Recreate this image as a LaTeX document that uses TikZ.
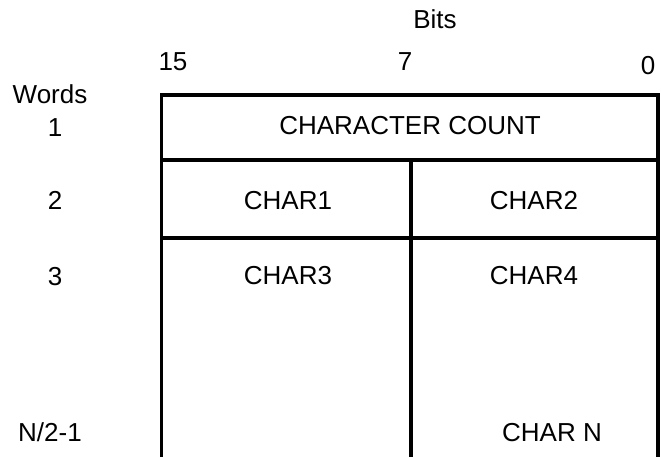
\documentclass[tikz,border=0pt]{standalone}
\usepackage{fontspec}
\setmainfont{Liberation Sans}
\usepackage{tikz}
\usetikzlibrary{positioning}

\begin{document}
\begin{tikzpicture}[
    x=1pt, y=-1pt,
    every node/.style={font=\fontsize{26}{30}\selectfont, inner sep=0pt, text height=18.6pt, text depth=0pt},
    frameline/.style={line width=3.2pt, black},
    wordlabel/.style={},
    charlabel/.style={}
]

% 参数：格子边界（像素）
\def\xL{161.5}
\def\xM{411}
\def\xR{658}
\def\yT{95}
\def\yA{160}
\def\yB{238}
\def\yE{457}

\useasboundingbox (0,0) rectangle (661,457);

% 外框（底部开口）
\draw[frameline] (\xL,\yE) -- (\xL,\yT) -- (\xR,\yT) -- (\xR,\yE);
% 横线
\draw[frameline] (\xL,\yA) -- (\xR,\yA);
\draw[frameline] (\xL,\yB) -- (\xR,\yB);
% 中间分界线
\draw[frameline] (\xM,\yA) -- (\xM,\yE);

% 位号
\node (bits) at (435,19) {Bits};
\node (b15) at (173,61) {15};
\node (b7)  at (405,61) {7};
\node (b0)  at (648,65) {0};

% 字号
\node[wordlabel] (words) at (50,94)  {Words};
\node[wordlabel] (w1)    at (55,127) {1};
\node[wordlabel] (w2)    at (55,200) {2};
\node[wordlabel] (w3)    at (55,276) {3};
\node[wordlabel] (wN)    at (50,432) {N/2-1};

% 字符内容
\node[charlabel] (count) at (410,125) {CHARACTER COUNT};
\node[charlabel] (c1) at (288,200) {CHAR1};
\node[charlabel] (c2) at (534,200) {CHAR2};
\node[charlabel] (c3) at (288,275) {CHAR3};
\node[charlabel] (c4) at (534,275) {CHAR4};
\node[charlabel] (cN) at (552,432) {CHAR N};

\end{tikzpicture}
\end{document}
